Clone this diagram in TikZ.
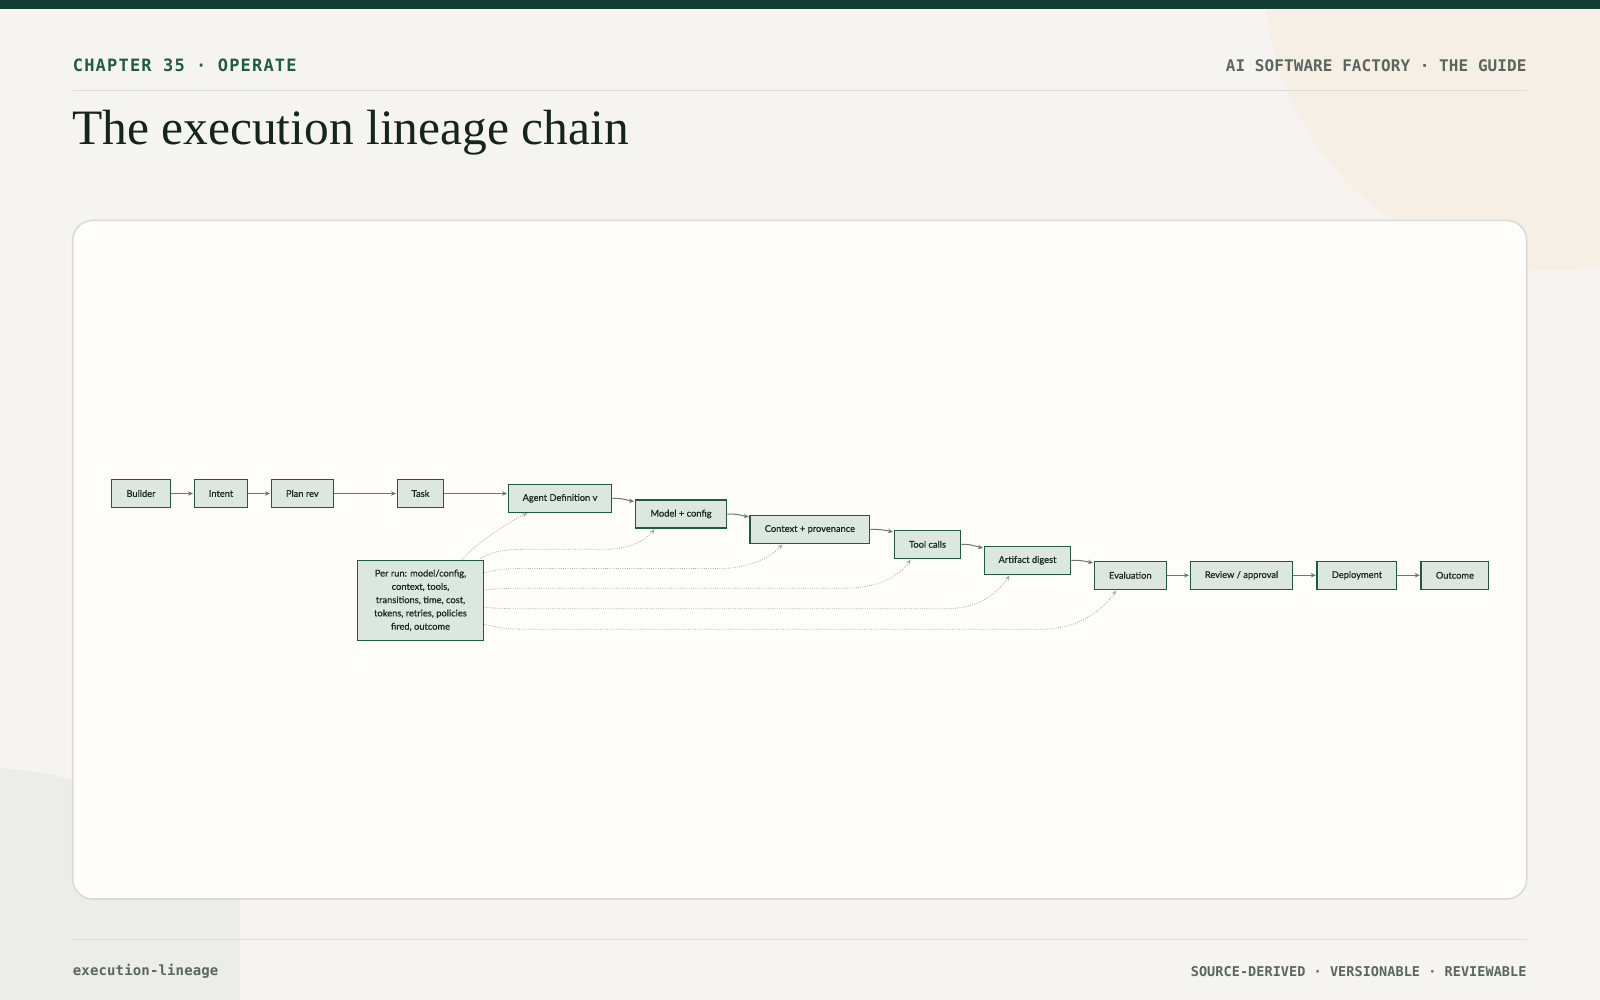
\documentclass[tikz,border=0pt]{standalone}
\usepackage{fontspec}
\setmainfont{Liberation Serif}
\newfontfamily\nodefont[FakeBold=0.6]{Lato}
\newfontfamily\chapfont[LetterSpace=7]{DejaVu Sans Mono}
\newfontfamily\guidefont[LetterSpace=0.5]{DejaVu Sans Mono}
\newfontfamily\footrfont[LetterSpace=0.5]{DejaVu Sans Mono}
\newfontfamily\footlfont[LetterSpace=1]{DejaVu Sans Mono}
\usetikzlibrary{arrows.meta,calc}
\definecolor{pagebg}{HTML}{F5F4F0}
\definecolor{topbar}{HTML}{133E33}
\definecolor{peach}{HTML}{F5EFE5}
\definecolor{greyblob}{HTML}{ECEDE8}
\definecolor{cardfill}{HTML}{FEFDF9}
\definecolor{cardline}{HTML}{D9DCD6}
\definecolor{rulecol}{HTML}{DDDCD6}
\definecolor{chapcol}{HTML}{1F5C45}
\definecolor{guidecol}{HTML}{5A665F}
\definecolor{titlecol}{HTML}{13251D}
\definecolor{nodefill}{HTML}{DBE7DF}
\definecolor{nodeline}{HTML}{1E5A44}
\definecolor{nodetext}{HTML}{1D2823}
\definecolor{edgecol}{HTML}{6D7772}
\definecolor{dotcol}{HTML}{A3AAA5}
\tikzset{
  box/.style={draw=nodeline, fill=nodefill, line width=1.2pt, inner sep=0pt,
    minimum height=28pt, text=nodetext, align=center,
    font=\nodefont\fontsize{9.3}{13.3}\selectfont},
  flow/.style={draw=edgecol, line width=1pt, shorten >=0.7pt, -{Stealth[length=5pt,width=4.5pt]}},
  trace/.style={draw=dotcol, line width=0.8pt, dash pattern=on 0.8pt off 1.4pt, shorten >=0.7pt,
    -{Stealth[length=5pt,width=4pt]}},
  label/.style={inner sep=0pt}
}
\begin{document}
\begin{tikzpicture}[x=1pt,y=-1pt]
\useasboundingbox (0,0) rectangle (1600,1000);
\fill[pagebg] (0,0) rectangle (1600,1000);
% background blobs
\fill[peach] (1555,-20) circle (290);
\fill[greyblob] (-1,768) .. controls (80,772) and (238,820) .. (240,905) -- (240,1000) -- (0,1000) -- cycle;
\fill[topbar] (0,0) rectangle (1600,9);
% header
\node[label, anchor=base west, text=chapcol, font=\chapfont\bfseries\fontsize{17}{20}\selectfont] (chap) at (72.7,71.7) {CHAPTER 35 · OPERATE};
\node[label, anchor=base east, text=guidecol, font=\guidefont\bfseries\fontsize{16}{19}\selectfont] (guide) at (1526.7,71.7) {AI SOFTWARE FACTORY · THE GUIDE};
\draw[rulecol, line width=1pt] (72.7,91) -- (1526.7,91);
\node[label, anchor=base west, text=titlecol, font=\fontsize{49.5}{56}\selectfont] (title) at (72,145) {The execution lineage chain};
% card
\draw[cardline, fill=cardfill, line width=1.6pt, rounded corners=20pt] (72.7,220.4) rectangle (1526.7,899);
% footer
\draw[rulecol, line width=1pt] (72.7,939.3) -- (1526.7,939.3);
\node[label, anchor=base west, text=guidecol, font=\footlfont\bfseries\fontsize{14}{17}\selectfont] (footl) at (72.7,975.7) {execution-lineage};
\node[label, anchor=base east, text=guidecol, font=\footrfont\bfseries\fontsize{13.5}{16}\selectfont] (footr) at (1526.7,976.3) {SOURCE-DERIVED · VERSIONABLE · REVIEWABLE};
% nodes
\node[box, minimum width=59.4pt] (builder) at (141,493.5) {Builder};
\node[box, minimum width=53.4pt] (intent) at (221,493.5) {Intent};
\node[box, minimum width=62pt] (plan) at (302.3,493.5) {Plan rev};
\node[box, minimum width=46.4pt] (task) at (420.5,493.5) {Task};
\node[box, minimum width=103.4pt] (agent) at (560,498.3) {Agent Definition v};
\node[box, minimum width=91.4pt] (model) at (681,514) {Model + config};
\node[box, minimum width=119.7pt] (context) at (809.9,529.3) {Context + provenance};
\node[box, minimum width=66.4pt] (tool) at (927.5,544.3) {Tool calls};
\node[box, minimum width=86.4pt] (artifact) at (1027.5,560.3) {Artifact digest};
\node[box, minimum width=72pt] (eval) at (1130.3,575.3) {Evaluation};
\node[box, minimum width=102.4pt] (review) at (1241.5,575.3) {Review / approval};
\node[box, minimum width=79.7pt] (deploy) at (1356.9,575.3) {Deployment};
\node[box, minimum width=67.7pt] (outcome) at (1454.9,575.3) {Outcome};
\node[box, minimum width=126.4pt, minimum height=80pt] (per) at (420.5,600.3) {Per run: model/config,\\context, tools,\\transitions, time, cost,\\tokens, retries, policies\\fired, outcome};
% main chain
\draw[flow] (builder.east) -- (intent.west);
\draw[flow] (intent.east) -- (plan.west);
\draw[flow] (plan.east) -- (task.west);
\draw[flow] (task.east) -- (task.east -| agent.west);
\draw[flow] (agent.east) .. controls +(12,0) and +(-9,-1.5) .. ($(model.north west)+(0,2.2)$);
\draw[flow] (model.east) .. controls +(12,0) and +(-9,-1.5) .. ($(context.north west)+(0,2.2)$);
\draw[flow] (context.east) .. controls +(12,0) and +(-9,-1.5) .. ($(tool.north west)+(0,2.2)$);
\draw[flow] (tool.east) .. controls +(12,0) and +(-9,-1.5) .. ($(artifact.north west)+(0,2.2)$);
\draw[flow] (artifact.east) .. controls +(12,0) and +(-9,-1.5) .. ($(eval.north west)+(0,2.2)$);
\draw[flow] (eval.east) -- (review.west);
\draw[flow] (review.east) -- (deploy.west);
\draw[flow] (deploy.east) -- (outcome.west);
% per-run traces
\draw[trace] ($(per.north)+(41.8,0)$) .. controls +(10,-14) and +(-18,8) .. ($(agent.south)+(-32,0)$);
\draw[trace] ($(per.north east)+(-4.4,-1)$) .. controls (492,551) and (505,549.3) .. (530,549.3) -- (605,549.3) .. controls (630,549.3) and (646,540) .. ($(model.south)+(-26,0)$);
\draw[trace] ($(per.east)+(0,-27.6)$) .. controls (500,569) and (505,568.5) .. (530,568.5) -- (720,568.5) .. controls (750,568.5) and (772,556) .. ($(context.south)+(-27,0)$);
\draw[trace] ($(per.east)+(0,-10.3)$) .. controls (498,588.5) and (505,588.3) .. (520,588.3) -- (843,588.3) .. controls (880,588.3) and (900,575) .. ($(tool.south)+(-16.5,0)$);
\draw[trace] ($(per.east)+(0,7)$) .. controls (498,608.5) and (505,608.7) .. (520,608.7) -- (947,608.7) .. controls (980,608.7) and (998,592) .. ($(artifact.south)+(-17.5,0)$);
\draw[trace] ($(per.east)+(0,24)$) .. controls (500,628) and (505,629.3) .. (530,629.3) -- (1040,629.3) .. controls (1080,629.3) and (1102,610) .. ($(eval.south)+(-13.6,0)$);
\end{tikzpicture}
\end{document}
